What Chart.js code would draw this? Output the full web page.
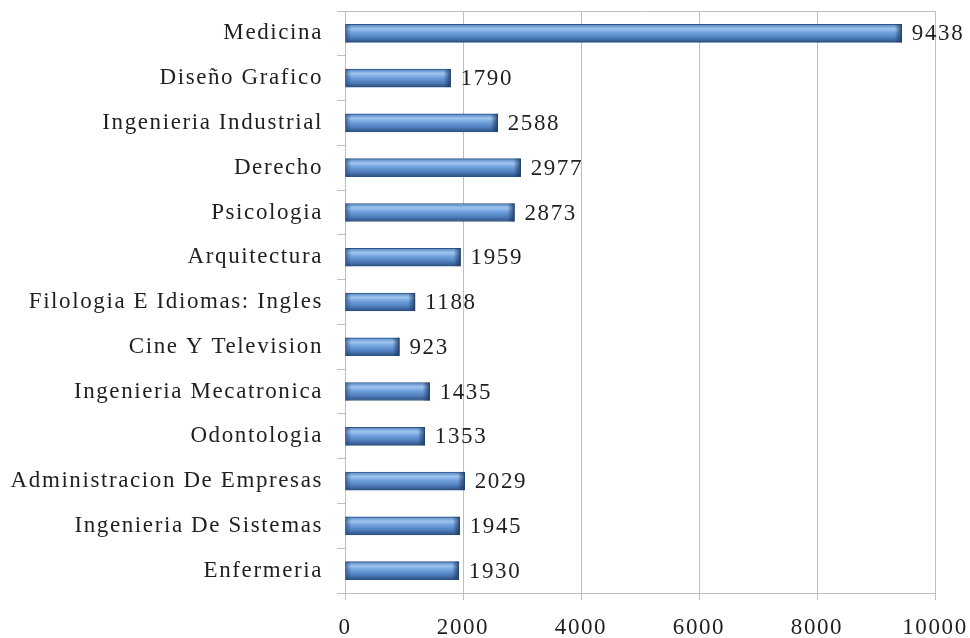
<!DOCTYPE html>
<html>
<head>
<meta charset="utf-8">
<script src="https://cdn.jsdelivr.net/npm/chart.js@4"></script>
<style>
  html, body { margin: 0; padding: 0; background: #fff; }
  #caja { width: 970px; height: 638px; position: relative; }
</style>
</head>
<body>
<div id="caja"><canvas id="grafico"></canvas></div>
<script>
const categorias = [
    'Medicina', 'Diseño Grafico', 'Ingenieria Industrial', 'Derecho', 'Psicologia',
    'Arquitectura', 'Filologia E Idiomas: Ingles', 'Cine Y Television',
    'Ingenieria Mecatronica', 'Odontologia', 'Administracion De Empresas',
    'Ingenieria De Sistemas', 'Enfermeria'
];
const valores = [9438, 1790, 2588, 2977, 2873, 1959, 1188, 923, 1435, 1353, 2029, 1945, 1930];
const ticksX = [0, 2000, 4000, 6000, 8000, 10000];

const fuente = "'Liberation Serif', 'Times New Roman', serif";
const gris = '#bfbfbf';
const espaciado = '1.6px';

// gradiente vertical tipo "cilindro" para cada barra
function colorBarra(c) {
    const chart = c.chart;
    const sy = chart.scales.y;
    if (!sy || !chart.chartArea) return '#5b8fd0';
    const yc = sy.getPixelForValue(c.dataIndex);
    const g = chart.ctx.createLinearGradient(0, yc - 9, 0, yc + 9);
    g.addColorStop(0, '#5283c0');
    g.addColorStop(0.25, '#a0c6ef');
    g.addColorStop(0.45, '#72a2de');
    g.addColorStop(0.75, '#4e7dbd');
    g.addColorStop(1, '#2e4f7c');
    return g;
}

const pluginEspaciado = {
    id: 'espaciado',
    beforeUpdate(chart) { chart.ctx.letterSpacing = espaciado; },
    beforeDraw(chart) { chart.ctx.letterSpacing = espaciado; }
};

// biselado de los extremos y etiquetas de valor
const pluginValores = {
    id: 'valores',
    afterDatasetsDraw(chart) {
        const ctx = chart.ctx;
        const meta = chart.getDatasetMeta(0);
        ctx.save();
        meta.data.forEach((bar, i) => {
            const top = bar.y - bar.height / 2;
            let g = ctx.createLinearGradient(bar.x - 7, 0, bar.x, 0);
            g.addColorStop(0, 'rgba(30,55,95,0)');
            g.addColorStop(1, 'rgba(30,55,95,0.85)');
            ctx.fillStyle = g;
            ctx.fillRect(bar.x - 7, top, 7, bar.height);
            g = ctx.createLinearGradient(bar.base, 0, bar.base + 6, 0);
            g.addColorStop(0, 'rgba(40,70,120,0.6)');
            g.addColorStop(1, 'rgba(40,70,120,0)');
            ctx.fillStyle = g;
            ctx.fillRect(bar.base, top, 6, bar.height);

            ctx.letterSpacing = espaciado;
            ctx.font = '23px ' + fuente;
            ctx.fillStyle = '#1f1f1f';
            ctx.textAlign = 'left';
            ctx.textBaseline = 'middle';
            ctx.fillText(String(valores[i]), bar.x + 10, bar.y + 1);
        });
        ctx.restore();
    }
};

window.onload = function () {
    const ctx = document.getElementById('grafico').getContext('2d');

    new Chart(ctx, {
        type: 'bar',
        data: {
            labels: categorias,
            datasets: [{
                data: valores,
                backgroundColor: colorBarra,
                borderColor: '#2f5686',
                borderWidth: 1,
                borderSkipped: false,
                barThickness: 18
            }]
        },
        options: {
            indexAxis: 'y',
            responsive: true,
            maintainAspectRatio: false,
            devicePixelRatio: 1,
            animation: false,
            layout: { padding: { top: 11, right: 35, left: 0, bottom: 0 } },
            plugins: {
                legend: { display: false },
                tooltip: { enabled: false }
            },
            scales: {
                x: {
                    min: ticksX[0],
                    max: ticksX[ticksX.length - 1],
                    afterBuildTicks: scale => { scale.ticks = ticksX.map(v => ({ value: v })); },
                    afterFit: scale => {
                        scale.height = 45;
                        scale.paddingLeft = 0;
                        scale.paddingRight = 0;
                    },
                    grid: { color: gris, tickColor: gris, tickLength: 7 },
                    border: { color: gris },
                    ticks: {
                        color: '#1f1f1f',
                        padding: 14,
                        maxRotation: 0,
                        callback: v => String(v),
                        font: { family: fuente, size: 23 }
                    }
                },
                y: {
                    afterFit: scale => {
                        scale.width = 345;
                        scale.paddingTop = 0;
                        scale.paddingBottom = 0;
                    },
                    grid: {
                        offset: true,
                        tickLength: 8,
                        color: c => (c.index === 0 || c.index === undefined) ? gris : 'rgba(0,0,0,0)',
                        tickColor: gris
                    },
                    border: { color: gris },
                    ticks: {
                        color: '#1f1f1f',
                        padding: 14,
                        autoSkip: false,
                        font: { family: fuente, size: 23 }
                    }
                }
            }
        },
        plugins: [pluginEspaciado, pluginValores]
    });
};
</script>
</body>
</html>
